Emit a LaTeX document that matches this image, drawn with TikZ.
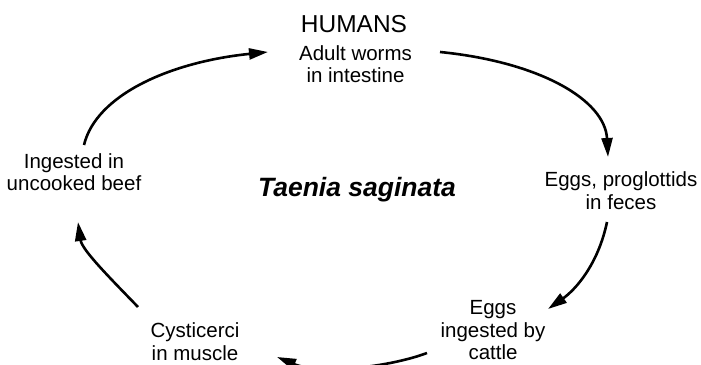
\documentclass[tikz,border=0pt]{standalone}
\usepackage{fontspec}
\setmainfont{Liberation Sans}
\usetikzlibrary{arrows.meta}
\tikzset{
  lbl/.style={align=center, inner sep=0pt, anchor=base, font=\fontsize{20.5}{22.5}\selectfont},
  cyc/.style={line width=2.6pt, -{Triangle[length=19pt,width=11pt]}},
}
\begin{document}
\begin{tikzpicture}[x=1pt,y=1pt]
\useasboundingbox (0,0) rectangle (701,364);
% labels (base anchor = baseline of the last line)
\node[lbl, font=\fontsize{24.5}{26}\selectfont] (hum) at (354,331) {HUMANS};
\node[lbl] (adult) at (355.5,281) {Adult worms\\in intestine};
\node[lbl] (feces) at (621,154.5) {Eggs, proglottids\\in feces};
\node[lbl] (cattle) at (493,4.5) {Eggs\\ingested by\\cattle};
\node[lbl] (cyst) at (195,4) {Cysticerci\\in muscle};
\node[lbl] (beef) at (74,173) {Ingested in\\uncooked beef};
\node[lbl, font=\fontsize{26.5}{28}\bfseries\itshape] (taenia) at (357,167) {Taenia saginata};
% arrow end points
\coordinate (a1s) at (84,219);  \coordinate (a1e) at (268,312);
\coordinate (a2s) at (440,312); \coordinate (a2e) at (608,207);
\coordinate (a3s) at (607,142); \coordinate (a3e) at (548,55);
\coordinate (a4s) at (427,11);  \coordinate (a4e) at (277,7);
\coordinate (a5s) at (138,57);  \coordinate (a5e) at (78,142);
% cycle arrows
\draw[cyc] (a1s) .. controls (96,269) and (170,302) .. (a1e);
\draw[cyc] (a2s) .. controls (540,302) and (605,264) .. (a2e);
\draw[cyc] (a3s) .. controls (598,99) and (575,74) .. (a3e);
\draw[cyc] (a4s) .. controls (390,-3) and (320,-11) .. (a4e);
\draw[cyc] (a5s) .. controls (110,86) and (82,114) .. (a5e);
\end{tikzpicture}
\end{document}
